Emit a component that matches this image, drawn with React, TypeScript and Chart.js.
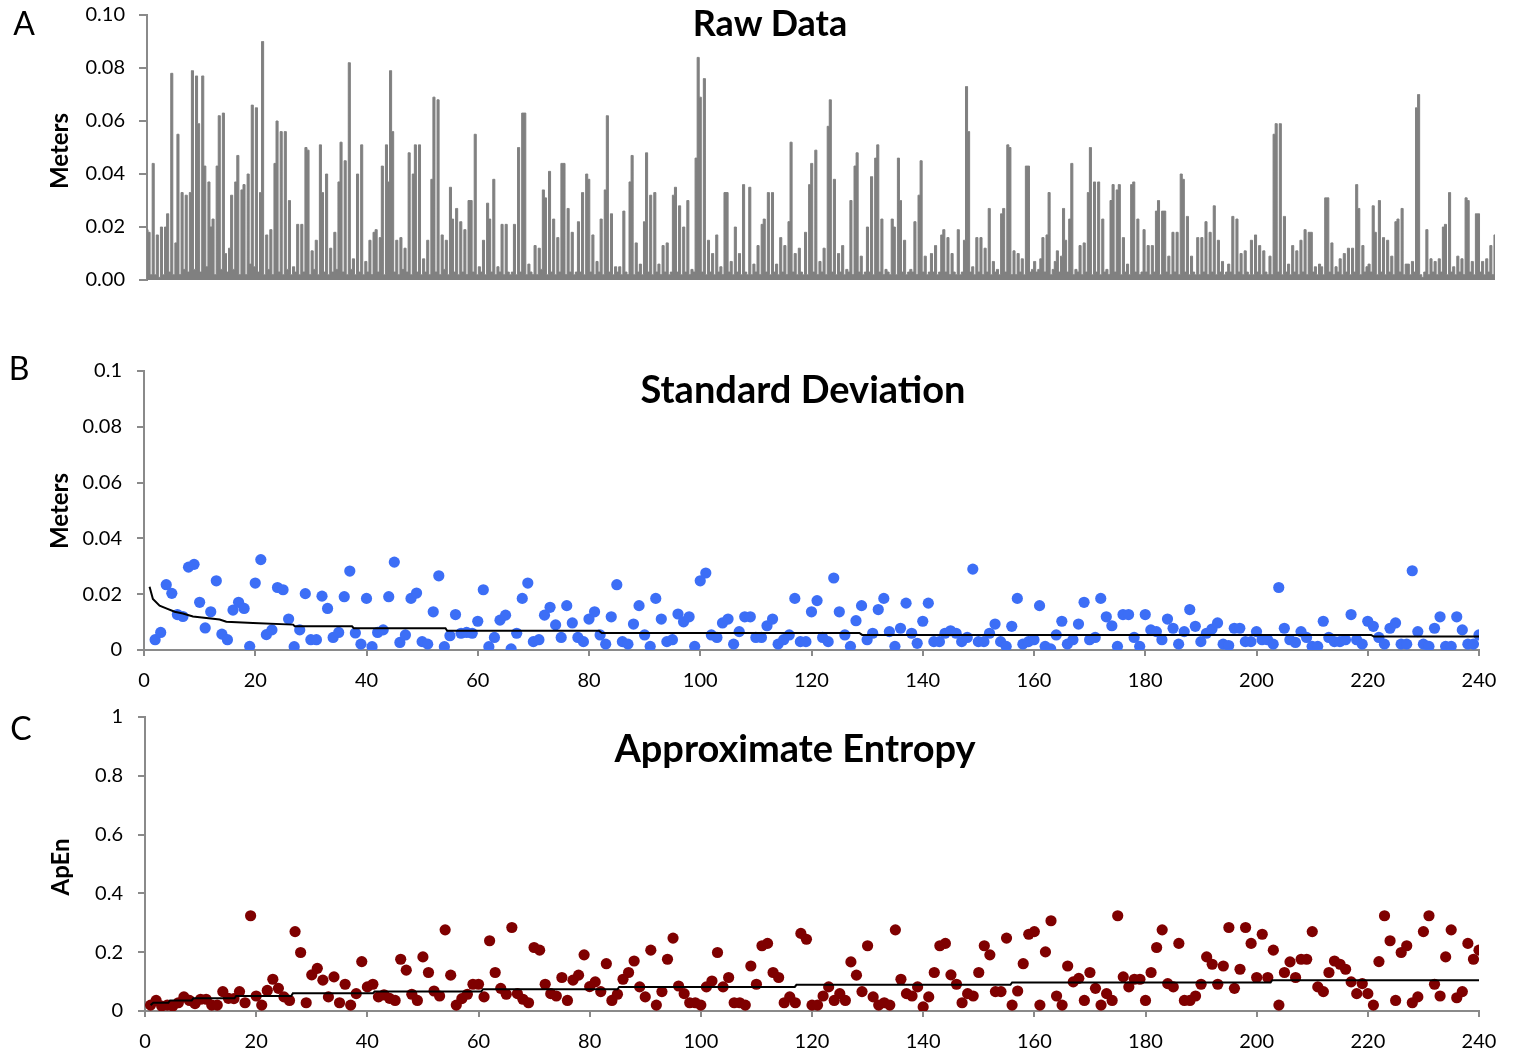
import React, { useEffect, useRef } from "react";
import { Chart, registerables } from "chart.js";

Chart.register(...registerables);

// ---------------- DATA ----------------
// Panel A: raw data (meters), consecutive samples
const rawMeters = [
  0.019, 0.018, 0.002, 0.044, 0.002, 0.017, 0.001, 0.020, 0.002, 0.020, 0.025, 0.003, 0.078, 0.002, 0.014, 0.055, 0.002, 0.033, 0.004, 0.032,
  0.003, 0.033, 0.079, 0.004, 0.077, 0.059, 0.003, 0.077, 0.043, 0.005, 0.037, 0.020, 0.023, 0.002, 0.043, 0.062,
  0.004, 0.063, 0.010, 0.003, 0.012, 0.032, 0.004, 0.037, 0.047, 0.002, 0.034, 0.036, 0.002, 0.040, 0.006,
  0.066, 0.005, 0.065, 0.003, 0.033, 0.090, 0.002, 0.017, 0.004, 0.019, 0.002, 0.044, 0.060, 0.003, 0.056, 0.002, 0.056, 0.004, 0.030, 0.002,
  0.005, 0.003, 0.021, 0.002, 0.021, 0.003, 0.050, 0.049, 0.002, 0.011, 0.004, 0.015, 0.002, 0.051, 0.033, 0.003, 0.040, 0.002, 0.012, 0.003,
  0.018, 0.004, 0.037, 0.052, 0.003, 0.045, 0.002, 0.082, 0.004, 0.008, 0.002, 0.040, 0.003, 0.051, 0.002, 0.007, 0.003, 0.015, 0.002, 0.018,
  0.019, 0.003, 0.016, 0.043, 0.002, 0.051, 0.037, 0.079, 0.056, 0.003, 0.015, 0.002, 0.016, 0.004, 0.012, 0.003, 0.048, 0.002, 0.040, 0.051,
  0.003, 0.051, 0.002, 0.008, 0.003, 0.015, 0.002, 0.038, 0.069, 0.003, 0.068, 0.002, 0.017, 0.004, 0.015, 0.002, 0.035, 0.023, 0.003, 0.027,
  0.002, 0.022, 0.003, 0.019, 0.002, 0.030, 0.030, 0.003, 0.055, 0.002, 0.005, 0.003, 0.015, 0.002, 0.029, 0.023, 0.003, 0.038, 0.002, 0.005,
  0.003, 0.021, 0.002, 0.021, 0.003, 0.002, 0.003,
  0.021, 0.002, 0.050, 0.003, 0.063, 0.063, 0.002, 0.006, 0.003, 0.002, 0.013, 0.002, 0.012, 0.004, 0.034, 0.031, 0.002, 0.041, 0.003, 0.023, 0.002,
  0.016, 0.003, 0.044, 0.044, 0.002, 0.027, 0.003, 0.018, 0.002, 0.003, 0.022, 0.003, 0.033, 0.002, 0.040, 0.038, 0.003, 0.017, 0.002, 0.007, 0.003,
  0.023, 0.002, 0.034, 0.062, 0.003, 0.025, 0.002, 0.005, 0.003, 0.005, 0.002, 0.026, 0.003, 0.002, 0.037, 0.047, 0.002, 0.014, 0.003, 0.006, 0.002,
  0.022, 0.048, 0.003, 0.032, 0.002, 0.033, 0.003, 0.006, 0.002, 0.013, 0.003, 0.014, 0.002, 0.003, 0.032, 0.035, 0.003, 0.028, 0.002, 0.020, 0.003,
  0.030, 0.002, 0.004, 0.003, 0.046, 0.084, 0.069, 0.003, 0.076, 0.002, 0.015, 0.003, 0.010, 0.002, 0.017, 0.003, 0.005, 0.002, 0.033, 0.033,
  0.003, 0.007, 0.002, 0.020, 0.003, 0.010, 0.002, 0.036, 0.003, 0.002, 0.035, 0.002, 0.006, 0.003, 0.013, 0.002, 0.021, 0.023, 0.003, 0.033, 0.002,
  0.033, 0.003, 0.006, 0.002, 0.016, 0.003, 0.013, 0.002, 0.022, 0.052, 0.003, 0.010, 0.002, 0.012, 0.003, 0.002, 0.018, 0.002, 0.036, 0.044, 0.003,
  0.049, 0.002, 0.007, 0.003, 0.012, 0.002, 0.058, 0.068, 0.003, 0.038, 0.002, 0.010, 0.003, 0.013, 0.002, 0.004, 0.003, 0.030, 0.002, 0.043,
  0.048, 0.003, 0.009, 0.002, 0.003, 0.020, 0.003, 0.039, 0.002, 0.046, 0.051, 0.003, 0.023, 0.002, 0.004, 0.003, 0.002, 0.023, 0.020, 0.002, 0.046, 0.030,
  0.003, 0.015, 0.002, 0.003, 0.004, 0.003, 0.022, 0.002, 0.032, 0.045, 0.003, 0.009, 0.002, 0.003, 0.010, 0.003, 0.013, 0.002, 0.003, 0.017, 0.019, 0.003, 0.016,
  0.002, 0.010, 0.003, 0.002, 0.019, 0.002, 0.003, 0.015, 0.073, 0.056, 0.003, 0.005, 0.002, 0.016, 0.003, 0.016, 0.002, 0.012, 0.003, 0.027, 0.002, 0.007,
  0.003, 0.004, 0.002, 0.025, 0.027, 0.003, 0.051, 0.050, 0.002,
  0.011, 0.002, 0.010, 0.003, 0.008, 0.002, 0.043, 0.043, 0.003, 0.004, 0.007, 0.003, 0.004, 0.008, 0.016, 0.003, 0.017, 0.033,
  0.002, 0.004, 0.007, 0.011, 0.003, 0.009, 0.027, 0.015, 0.003, 0.023, 0.044, 0.002, 0.004, 0.003, 0.013, 0.002, 0.014,
  0.003, 0.033, 0.050, 0.002, 0.037, 0.003, 0.037, 0.002, 0.023, 0.003, 0.004, 0.002, 0.030, 0.036, 0.003, 0.034, 0.036, 0.002, 0.016, 0.003,
  0.006, 0.002, 0.036, 0.037, 0.003, 0.023, 0.002, 0.003, 0.019, 0.003, 0.013, 0.002, 0.013, 0.003, 0.026, 0.030, 0.002, 0.026, 0.026, 0.003, 0.009,
  0.002, 0.018, 0.003, 0.018, 0.002, 0.040, 0.038, 0.003, 0.024, 0.002, 0.009, 0.003, 0.002, 0.016, 0.002, 0.016, 0.003, 0.022, 0.002, 0.018, 0.003,
  0.028, 0.002, 0.015, 0.003, 0.007, 0.002, 0.003, 0.006, 0.003, 0.024, 0.002, 0.023, 0.003, 0.010, 0.002, 0.011, 0.003, 0.002, 0.015, 0.002, 0.017, 0.003,
  0.013, 0.002, 0.011, 0.003, 0.002, 0.009, 0.002, 0.055, 0.059, 0.003, 0.059, 0.002, 0.024, 0.003, 0.006, 0.002, 0.013, 0.003, 0.011, 0.002, 0.015,
  0.003, 0.019, 0.002, 0.018, 0.018, 0.003, 0.005, 0.002, 0.006, 0.005, 0.002, 0.031, 0.031, 0.003, 0.014, 0.002, 0.005, 0.003, 0.008,
  0.002, 0.010, 0.003, 0.012, 0.002, 0.012, 0.003, 0.036, 0.027, 0.002, 0.013, 0.003, 0.005, 0.006, 0.003, 0.028, 0.018, 0.002, 0.030,
  0.003, 0.016, 0.002, 0.015, 0.003, 0.009, 0.002, 0.022, 0.023, 0.003, 0.027, 0.002, 0.006, 0.006, 0.002, 0.007, 0.003, 0.065, 0.070,
  0.002, 0.001, 0.003, 0.019, 0.002, 0.008, 0.003, 0.007, 0.002, 0.008, 0.003, 0.020, 0.021, 0.002, 0.033, 0.003, 0.005, 0.002, 0.009, 0.003,
  0.008, 0.002, 0.031, 0.030, 0.003, 0.007, 0.002, 0.025, 0.025, 0.003, 0.007, 0.002, 0.008, 0.003, 0.013, 0.002, 0.017,
];
const rawYTickLabels = ["0.00", "0.02", "0.04", "0.06", "0.08", "0.10"];

// Panel B: standard deviation per window (first window index = 2)
const sdStart = 2;
const sdMeters = [
  0.0037, 0.0063, 0.0234, 0.0203, 0.0127, 0.012, 0.0297, 0.0307, 0.0171, 0.0079,
  0.0137, 0.0248, 0.0057, 0.0037, 0.0143, 0.0171, 0.0149, 0.0013, 0.024, 0.0324,
  0.0055, 0.0072, 0.0224, 0.0216, 0.0111, 0.0012, 0.0072, 0.0202, 0.0037, 0.0037,
  0.0193, 0.0149, 0.0045, 0.0063, 0.0191, 0.0283, 0.0061, 0.0021, 0.0185, 0.0012,
  0.0063, 0.0072, 0.0191, 0.0315, 0.0027, 0.0054, 0.0185, 0.0204, 0.003, 0.0021,
  0.0137, 0.0266, 0.0012, 0.0051, 0.0127, 0.006, 0.0063, 0.006, 0.0103, 0.0216,
  0.0012, 0.0045, 0.0107, 0.0125, 0.0004, 0.006, 0.0185, 0.024, 0.003, 0.0037,
  0.0125, 0.0153, 0.009, 0.0045, 0.0159, 0.0097, 0.0045, 0.003, 0.0111, 0.0137,
  0.0054, 0.0021, 0.0119, 0.0234, 0.003, 0.0021, 0.0093, 0.0159, 0.0054, 0.0013,
  0.0185, 0.0111, 0.003, 0.0037, 0.0129, 0.0101, 0.0119, 0.0013, 0.0248, 0.0276,
  0.0054, 0.0045, 0.0097, 0.0111, 0.0021, 0.0066, 0.0119, 0.0119, 0.0045, 0.0045,
  0.0087, 0.0111, 0.0021, 0.0037, 0.0054, 0.0185, 0.003, 0.003, 0.0137, 0.0177,
  0.0045, 0.003, 0.0258, 0.0137, 0.0054, 0.0013, 0.0105, 0.0159, 0.0037, 0.006,
  0.0145, 0.0185, 0.0066, 0.0013, 0.0078, 0.0168, 0.006, 0.0024, 0.0103, 0.0168,
  0.003, 0.003, 0.006, 0.0069, 0.006, 0.003, 0.0045, 0.029, 0.003, 0.003,
  0.006, 0.0093, 0.003, 0.0013, 0.0085, 0.0185, 0.0021, 0.003, 0.0037, 0.0159,
  0.0013, 0.0004, 0.0054, 0.0103, 0.0021, 0.0037, 0.0093, 0.0171, 0.0037, 0.0045,
  0.0185, 0.0119, 0.0087, 0.0013, 0.0127, 0.0127, 0.0045, 0.0013, 0.0127, 0.0072,
  0.0066, 0.0037, 0.0111, 0.0078, 0.0021, 0.0066, 0.0145, 0.0085, 0.003, 0.006,
  0.0075, 0.0097, 0.0021, 0.0016, 0.0078, 0.0078, 0.003, 0.003, 0.0066, 0.0037,
  0.0037, 0.0021, 0.0224, 0.0078, 0.0037, 0.0027, 0.0066, 0.0045, 0.0013, 0.0013,
  0.0103, 0.0045, 0.003, 0.003, 0.0037, 0.0127, 0.0037, 0.0021, 0.0103, 0.0085,
  0.0045, 0.0021, 0.0078, 0.0097, 0.0021, 0.0021, 0.0284, 0.0066, 0.0021, 0.0013,
  0.0078, 0.0119, 0.0013, 0.0013, 0.0119, 0.0072, 0.0021, 0.0021, 0.0054,
];
const sdTrendX = [1, 1.6, 2.8, 4, 5.5, 7, 8.8, 11.2, 13.6, 14.8, 19.6, 26.8, 27.1, 37.4, 37.7, 54.2, 54.5, 81.8, 82.3, 128.6, 129.1, 220.6, 221.1, 240];
const sdTrendY = [0.0227, 0.0183, 0.0159, 0.0149, 0.0137, 0.0131, 0.012, 0.0115, 0.0109, 0.0101, 0.0097, 0.0091, 0.0085, 0.0085, 0.0078, 0.0078, 0.0069, 0.0069, 0.0061, 0.0061, 0.0054, 0.0054, 0.0048, 0.0048];
const sdYTickLabels = ["0", "0.02", "0.04", "0.06", "0.08", "0.1"];

// Panel C: approximate entropy per window (first window index = 1)
const apStart = 1;
const apEn = [
  0.02, 0.036, 0.017, 0.02, 0.017, 0.028, 0.048, 0.036, 0.025, 0.04,
  0.04, 0.02, 0.02, 0.066, 0.043, 0.042, 0.066, 0.028, 0.324, 0.051,
  0.02, 0.07, 0.108, 0.077, 0.048, 0.036, 0.27, 0.199, 0.028, 0.123,
  0.145, 0.105, 0.048, 0.116, 0.028, 0.091, 0.02, 0.059, 0.168, 0.082,
  0.091, 0.048, 0.055, 0.043, 0.036, 0.176, 0.139, 0.057, 0.036, 0.184,
  0.131, 0.068, 0.051, 0.276, 0.122, 0.02, 0.042, 0.057, 0.091, 0.091,
  0.048, 0.239, 0.131, 0.077, 0.057, 0.284, 0.059, 0.04, 0.028, 0.216,
  0.207, 0.091, 0.059, 0.051, 0.114, 0.036, 0.105, 0.122, 0.191, 0.083,
  0.099, 0.066, 0.161, 0.036, 0.057, 0.108, 0.131, 0.17, 0.082, 0.048,
  0.207, 0.02, 0.066, 0.176, 0.248, 0.085, 0.059, 0.028, 0.028, 0.02,
  0.082, 0.102, 0.199, 0.082, 0.114, 0.028, 0.028, 0.02, 0.153, 0.091,
  0.222, 0.23, 0.131, 0.114, 0.028, 0.048, 0.028, 0.264, 0.244, 0.02,
  0.02, 0.051, 0.082, 0.036, 0.059, 0.036, 0.167, 0.122, 0.066, 0.222,
  0.048, 0.02, 0.028, 0.02, 0.276, 0.108, 0.059, 0.051, 0.082, 0.014,
  0.048, 0.131, 0.222, 0.23, 0.123, 0.091, 0.028, 0.059, 0.051, 0.131,
  0.222, 0.191, 0.066, 0.066, 0.248, 0.02, 0.068, 0.161, 0.261, 0.27,
  0.02, 0.201, 0.307, 0.051, 0.02, 0.153, 0.099, 0.111, 0.036, 0.131,
  0.077, 0.02, 0.059, 0.036, 0.324, 0.116, 0.082, 0.108, 0.108, 0.036,
  0.131, 0.216, 0.276, 0.093, 0.082, 0.23, 0.036, 0.036, 0.051, 0.091,
  0.184, 0.159, 0.091, 0.153, 0.284, 0.077, 0.142, 0.284, 0.23, 0.114,
  0.261, 0.114, 0.207, 0.02, 0.131, 0.167, 0.114, 0.176, 0.176, 0.27,
  0.082, 0.066, 0.131, 0.17, 0.159, 0.142, 0.099, 0.059, 0.093, 0.059,
  0.02, 0.168, 0.324, 0.239, 0.036, 0.199, 0.222, 0.028, 0.048, 0.27,
  0.324, 0.091, 0.051, 0.184, 0.276, 0.045, 0.066, 0.23, 0.176, 0.207,
];
const apTrendX = [1, 1.5, 4.2, 4.5, 8.4, 8.7, 16.1, 16.4, 26.3, 26.6, 41.0, 41.3, 60.5, 60.8, 85.0, 85.3, 116.9, 117.2, 155.7, 156.0, 202.5, 202.8, 240];
const apTrendY = [0.02, 0.028, 0.028, 0.036, 0.036, 0.043, 0.043, 0.051, 0.051, 0.06, 0.06, 0.066, 0.066, 0.074, 0.074, 0.082, 0.082, 0.089, 0.089, 0.097, 0.097, 0.105, 0.105];
const apYTickLabels = ["0", "0.2", "0.4", "0.6", "0.8", "1"];

const windowTickLabels = ["0", "20", "40", "60", "80", "100", "120", "140", "160", "180", "200", "220", "240"];

// ---------------- STYLE ----------------
const FONT = "Lato, 'Open Sans', sans-serif";
const AXIS = "#8a8a8a";

function zeroPad(s: any) {
  s.paddingTop = 0;
  s.paddingBottom = 0;
  s.paddingLeft = 0;
  s.paddingRight = 0;
}

function yScale(min: number, max: number, step: number, labels: string[], width: number, size: number, pad: number, tick: number) {
  return {
    type: "linear" as const,
    min,
    max,
    afterFit: (s: any) => { s.width = width; zeroPad(s); },
    ticks: {
      stepSize: step,
      callback: (_v: any, i: number) => labels[i],
      font: { family: FONT, size },
      color: "#000",
      padding: pad,
    },
    grid: { drawOnChartArea: false, drawTicks: true, tickLength: tick, color: AXIS, lineWidth: 2 },
    border: { display: true, color: AXIS, width: 2 },
  };
}

function xScale(height: number) {
  return {
    type: "linear" as const,
    min: 0,
    max: 240,
    afterFit: (s: any) => { s.height = height; zeroPad(s); },
    ticks: {
      stepSize: 20,
      autoSkip: false,
      maxRotation: 0,
      callback: (_v: any, i: number) => windowTickLabels[i],
      font: { family: FONT, size: 20 },
      color: "#000",
      padding: 13,
    },
    grid: { drawOnChartArea: false, drawTicks: true, tickLength: 6, color: AXIS, lineWidth: 2 },
    border: { display: true, color: AXIS, width: 2 },
  };
}

const basePlugins = { legend: { display: false }, tooltip: { enabled: false }, title: { display: false } };

function rawConfig(): any {
  return {
    type: "line",
    data: {
      datasets: [{
        data: rawMeters.map((v, i) => ({ x: i, y: v })),
        borderColor: "#808080",
        backgroundColor: "#808080",
        borderWidth: 1,
        pointRadius: 0,
        stepped: "middle",
        fill: "origin",
      }],
    },
    options: {
      animation: false,
      responsive: false,
      layout: { padding: { top: 15, bottom: 20, left: 0, right: 25 } },
      plugins: { ...basePlugins, filler: { propagate: false } },
      scales: {
        x: { type: "linear", display: false, min: 0, max: rawMeters.length - 1 },
        y: yScale(0, 0.1, 0.02, rawYTickLabels, 147, 20, 14, 8),
      },
    },
  };
}

function scatterConfig(values: number[], start: number, tx: number[], ty: number[], color: string,
  max: number, step: number, labels: string[], padTop: number, left: number, xHeight: number): any {
  return {
    type: "scatter",
    data: {
      datasets: [
        {
          data: tx.map((x, i) => ({ x, y: ty[i] })),
          showLine: true,
          borderColor: "#000",
          borderWidth: 2,
          pointRadius: 0,
          order: 0,
        },
        {
          data: values.map((v, i) => ({ x: i + start, y: v })),
          backgroundColor: color,
          pointRadius: 5.6,
          pointBorderWidth: 0,
          borderWidth: 0,
          order: 1,
        },
      ],
    },
    options: {
      animation: false,
      responsive: false,
      layout: { padding: { top: padTop, bottom: 0, left: 0, right: 41 } },
      plugins: basePlugins,
      scales: {
        x: xScale(xHeight),
        y: yScale(0, max, step, labels, left, 20, 15, 7),
      },
    },
  };
}

function ChartCanvas({ make, top, height }: { make: () => any; top: number; height: number }) {
  const ref = useRef<HTMLCanvasElement>(null);
  useEffect(() => {
    const chart = new Chart(ref.current as HTMLCanvasElement, make());
    return () => chart.destroy();
  }, []);
  return (
    <canvas
      ref={ref}
      width={1520}
      height={height}
      style={{ position: "absolute", left: 0, top, width: 1520, height, display: "block" }}
    />
  );
}

function Txt({ x, y, size, bold, rotate, children }: { x: number; y: number; size: number; bold?: boolean; rotate?: boolean; children: any }) {
  return (
    <div
      style={{
        position: "absolute",
        left: x,
        top: y,
        fontFamily: FONT,
        fontSize: size,
        fontWeight: bold ? 700 : 400,
        lineHeight: 1,
        whiteSpace: "nowrap",
        color: "#000",
        transform: `translate(-50%, -50%)${rotate ? " rotate(-90deg)" : ""}`,
      }}
    >
      {children}
    </div>
  );
}

export default function App() {
  return (
    <div style={{ position: "absolute", left: 0, top: 0, width: 1520, height: 1055, background: "#fff", overflow: "hidden" }}>
      <ChartCanvas make={rawConfig} top={0} height={300} />
      <ChartCanvas
        make={() => scatterConfig(sdMeters, sdStart, sdTrendX, sdTrendY, "#3c6ef6", 0.1, 0.02, sdYTickLabels, 71, 144, 50)}
        top={300}
        height={400}
      />
      <ChartCanvas
        make={() => scatterConfig(apEn, apStart, apTrendX, apTrendY, "#7f0000", 1, 0.2, apYTickLabels, 17, 145, 44)}
        top={700}
        height={355}
      />
      <Txt x={24} y={23} size={32}>A</Txt>
      <Txt x={19} y={368} size={32}>B</Txt>
      <Txt x={21} y={728} size={32}>C</Txt>
      <Txt x={770} y={22} size={36} bold>Raw Data</Txt>
      <Txt x={803} y={388} size={38} bold>Standard Deviation</Txt>
      <Txt x={795} y={747} size={38} bold>Approximate Entropy</Txt>
      <Txt x={59} y={151} size={24} bold rotate>Meters</Txt>
      <Txt x={59} y={511} size={24} bold rotate>Meters</Txt>
      <Txt x={60} y={867} size={24} bold rotate>ApEn</Txt>
    </div>
  );
}
